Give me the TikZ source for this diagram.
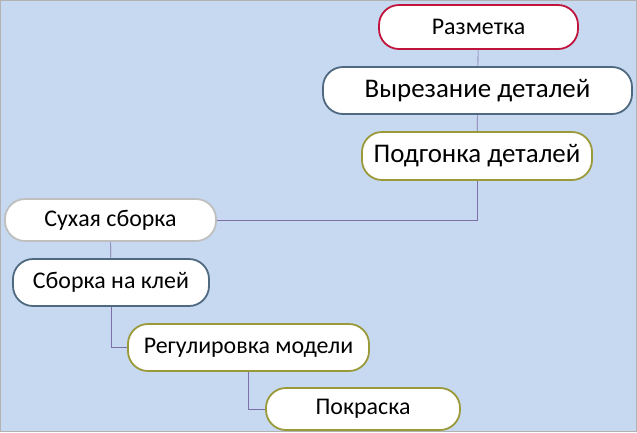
\documentclass[tikz,border=0pt]{standalone}
\usepackage{fontspec}
\setmainfont{Carlito}
\usetikzlibrary{positioning}
\definecolor{bgblue}{HTML}{C6D9F0}
\definecolor{redline}{HTML}{C0143C}
\definecolor{slate}{HTML}{4F6A80}
\definecolor{olive}{HTML}{9A9A3A}
\definecolor{lightgray}{HTML}{BFBFBF}
\definecolor{linkline}{HTML}{7F6FA8}
\tikzset{
  stage/.style={draw, line width=1.8bp, fill=white, rounded corners=20bp,
    inner sep=0pt, font=\fontsize{24}{28}\selectfont},
  link/.style={draw=linkline, line width=0.6bp}
}
\begin{document}
\begin{tikzpicture}[x=1bp,y=-1bp]
  \useasboundingbox (0,0) rectangle (637,432);
  \draw[fill=bgblue, draw=gray!60] (0.5,0.5) rectangle (636.5,431.5);

  \node[stage, draw=redline, minimum width=199bp, minimum height=44bp]
    (mark) at (478.5,27) {Разметка};
  \node[stage, draw=slate, minimum width=309bp, minimum height=47bp,
    font=\fontsize{27}{31}\selectfont] (cut) at (477.5,90.5) {Вырезание деталей};
  \node[stage, draw=olive, minimum width=230bp, minimum height=48bp,
    font=\fontsize{27}{31}\selectfont] (fit) at (477,156) {Подгонка деталей};
  \node[stage, draw=lightgray, minimum width=211bp, minimum height=42bp]
    (dry) at (110.5,220) {Сухая сборка};
  \node[stage, draw=slate, minimum width=196bp, minimum height=47bp,
    font=\fontsize{24}{28}\selectfont] (glue) at (111,282.5) {Сборка на клей};
  \node[stage, draw=olive, minimum width=241bp, minimum height=47bp]
    (tune) at (248.5,347.5) {Регулировка модели};
  \node[stage, draw=olive, minimum width=194bp, minimum height=42bp]
    (paint) at (363,409) {Покраска};

  \path[link] (mark) -- (cut);
  \path[link] (cut) -- (fit);
  \path[link] (fit.south) |- (dry.east);
  \path[link] (dry) -- (glue);
  \path[link] (glue.south) |- (tune.west);
  \path[link] (tune.south) |- (paint.west);
\end{tikzpicture}
\end{document}
